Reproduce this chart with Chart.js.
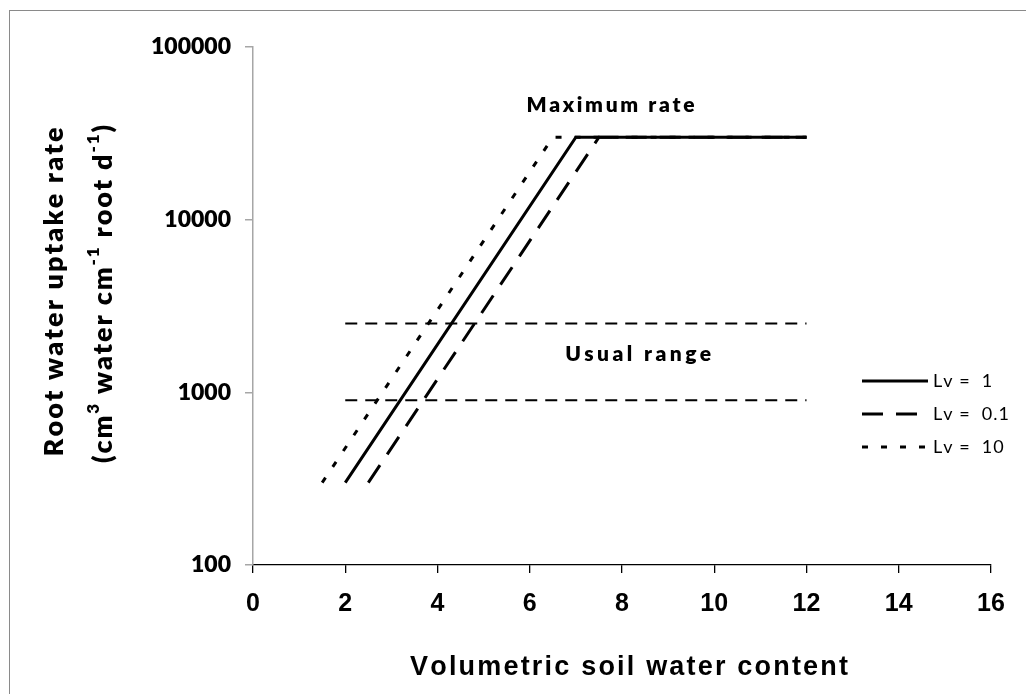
<!DOCTYPE html>
<html>
<head>
<meta charset="utf-8">
<script src="https://cdn.jsdelivr.net/npm/chart.js@4.4.0/dist/chart.umd.min.js"></script>
<style>
  html, body { margin: 0; padding: 0; background: #fff; }
  canvas { display: block; }
</style>
</head>
<body>
<canvas id="chart" width="1026" height="694"></canvas>
<script>
// Données
const xTicks = [0, 2, 4, 6, 8, 10, 12, 14, 16];
const yTicks = [100, 1000, 10000, 100000];
const seriesLabels = ['Lv = 1', 'Lv = 0.1', 'Lv = 10'];
const lv1X = [2, 7, 12];
const lv1Y = [300, 30000, 30000];
const lv01X = [2.5, 7.5, 12];
const lv01Y = [300, 30000, 30000];
const lv10X = [1.5, 6.5, 12];
const lv10Y = [300, 30000, 30000];
const rangeX = [2, 12];
const rangeHigh = [2500, 2500];
const rangeLow = [900, 900];

const BOLD = "800 {s}px Lato, 'DejaVu Sans', sans-serif";
function font(tpl, size) { return tpl.replace('{s}', size); }

function toPoints(xs, ys) {
    return xs.map((x, i) => ({ x: x, y: ys[i] }));
}

// Texte caractère par caractère (espacement façon Excel)
function measureChars(ctx, parts) {
    const chars = [];
    parts.forEach(p => {
        ctx.font = p.font;
        for (const ch of p.text) {
            chars.push({ ch: ch, font: p.font, dy: p.dy || 0, w: ctx.measureText(ch).width });
        }
    });
    return chars;
}

function drawSpread(ctx, parts, cx, y, width) {
    const chars = measureChars(ctx, parts);
    const total = chars.reduce((s, c) => s + c.w, 0);
    const gap = chars.length > 1 ? (width - total) / (chars.length - 1) : 0;
    let x = cx - width / 2;
    ctx.textAlign = 'left';
    ctx.textBaseline = 'alphabetic';
    chars.forEach(c => {
        ctx.font = c.font;
        ctx.fillText(c.ch, x, y + c.dy);
        x += c.w + gap;
    });
}

function drawGap(ctx, text, fnt, x, y, gap) {
    const chars = measureChars(ctx, [{ text: text, font: fnt }]);
    ctx.textAlign = 'left';
    ctx.textBaseline = 'middle';
    chars.forEach(c => {
        ctx.font = c.font;
        ctx.fillText(c.ch, x, y);
        x += c.w + gap;
    });
}

const decorPlugin = {
    id: 'decor',
    beforeDraw(chart) {
        const ctx = chart.ctx;
        ctx.save();
        ctx.fillStyle = '#fff';
        ctx.fillRect(0, 0, chart.width, chart.height);
        ctx.strokeStyle = '#8a8a8a';
        ctx.lineWidth = 1;
        ctx.strokeRect(9.5, 10.5, chart.width + 20, chart.height + 20);
        ctx.restore();
    },
    afterDraw(chart) {
        const ctx = chart.ctx;
        const xs = chart.scales.x;
        const ys = chart.scales.y;
        ctx.save();
        ctx.fillStyle = '#000';

        // Annotations
        drawSpread(ctx, [{ text: 'Maximum rate', font: font(BOLD, 21) }],
            xs.getPixelForValue(7.75), ys.getPixelForValue(42000), 168);
        drawSpread(ctx, [{ text: 'Usual range', font: font(BOLD, 21) }],
            xs.getPixelForValue(8.35), ys.getPixelForValue(1520), 146);

        // Titre de l'axe X
        drawSpread(ctx, [{ text: 'Volumetric soil water content',
            font: "bold 27px 'Liberation Sans Narrow', 'Liberation Sans', sans-serif" }],
            629, 675, 438);

        // Titre de l'axe Y (deux lignes, tourné)
        ctx.save();
        ctx.translate(63, 292);
        ctx.rotate(-Math.PI / 2);
        drawSpread(ctx, [{ text: 'Root water uptake rate', font: font(BOLD, 27) }], 0, 0, 329);
        ctx.restore();

        const main = font(BOLD, 27);
        const sup = font(BOLD, 17);
        ctx.save();
        ctx.translate(112, 294);
        ctx.rotate(-Math.PI / 2);
        drawSpread(ctx, [
            { text: '(cm', font: main },
            { text: '3', font: sup, dy: -13 },
            { text: ' water cm', font: main },
            { text: '-1', font: sup, dy: -13 },
            { text: ' root d', font: main },
            { text: '-1', font: sup, dy: -13 },
            { text: ')', font: main }
        ], 0, 0, 338);
        ctx.restore();

        // Légende
        const legendFont = "18px Lato, 'DejaVu Sans', sans-serif";
        chart.data.datasets.filter(d => seriesLabels.includes(d.label)).forEach((d, i) => {
            const y = 381 + 33 * i;
            ctx.save();
            ctx.strokeStyle = '#000';
            ctx.lineWidth = d.borderWidth;
            ctx.setLineDash(d.borderDash || []);
            ctx.beginPath();
            ctx.moveTo(862, y);
            ctx.lineTo(928, y);
            ctx.stroke();
            ctx.restore();
            drawGap(ctx, d.label.replace('= ', '=  '), legendFont, 933, y, 1);
        });
        ctx.restore();
    }
};

const ctx = document.getElementById('chart').getContext('2d');
new Chart(ctx, {
    type: 'line',
    data: {
        datasets: [
            {
                label: seriesLabels[0],
                data: toPoints(lv1X, lv1Y),
                borderColor: '#000',
                borderWidth: 3,
                borderDash: [],
                pointRadius: 0,
                tension: 0,
                fill: false
            },
            {
                label: seriesLabels[1],
                data: toPoints(lv01X, lv01Y),
                borderColor: '#000',
                borderWidth: 3,
                borderDash: [21, 13],
                pointRadius: 0,
                tension: 0,
                fill: false
            },
            {
                label: seriesLabels[2],
                data: toPoints(lv10X, lv10Y),
                borderColor: '#000',
                borderWidth: 3,
                borderDash: [6, 13],
                pointRadius: 0,
                tension: 0,
                fill: false
            },
            {
                label: '',
                data: toPoints(rangeX, rangeHigh),
                borderColor: '#000',
                borderWidth: 2,
                borderDash: [12, 8],
                pointRadius: 0,
                fill: false
            },
            {
                label: '',
                data: toPoints(rangeX, rangeLow),
                borderColor: '#000',
                borderWidth: 2,
                borderDash: [12, 8],
                pointRadius: 0,
                fill: false
            }
        ]
    },
    options: {
        responsive: false,
        animation: false,
        events: [],
        layout: { padding: { left: 0, top: 47, right: 35, bottom: 0 } },
        plugins: {
            legend: { display: false },
            tooltip: { enabled: false },
            title: { display: false }
        },
        scales: {
            x: {
                type: 'linear',
                min: 0,
                max: 16,
                afterBuildTicks: s => { s.ticks = xTicks.map(v => ({ value: v })); },
                ticks: {
                    color: '#000',
                    padding: 16,
                    maxRotation: 0,
                    autoSkip: false,
                    font: { family: "'Liberation Sans Narrow', 'Liberation Sans', sans-serif", size: 25, weight: 'bold' }
                },
                grid: { drawOnChartArea: false, drawTicks: true, tickLength: 8, color: '#000', lineWidth: 1.3 },
                border: { color: '#000', width: 1.3 },
                afterFit: s => { s.height = 129; }
            },
            y: {
                type: 'logarithmic',
                min: 100,
                max: 100000,
                afterBuildTicks: s => { s.ticks = yTicks.map(v => ({ value: v })); },
                ticks: {
                    color: '#000',
                    padding: 14,
                    callback: v => String(v),
                    font: { family: "Lato, 'DejaVu Sans', sans-serif", size: 23, weight: 800 }
                },
                grid: { drawOnChartArea: false, drawTicks: true, tickLength: 8, color: '#a6a6a6', lineWidth: 1.5 },
                border: { color: '#a6a6a6', width: 1.5 },
                afterFit: s => { s.width = 253; }
            }
        }
    },
    plugins: [decorPlugin]
});
</script>
</body>
</html>
